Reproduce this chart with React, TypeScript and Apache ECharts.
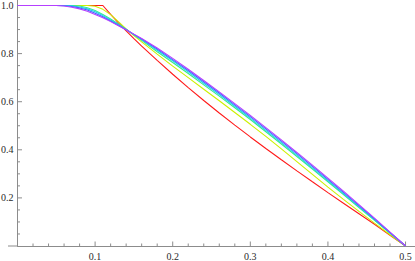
import React, { useEffect, useRef } from "react";
import * as echarts from "echarts";

// Shared x grid for all curves
const xGrid = [0, 0.05, 0.06, 0.07, 0.08, 0.09, 0.1, 0.11, 0.12, 0.13, 0.14, 0.15, 0.16, 0.18, 0.2, 0.22, 0.24, 0.26, 0.28, 0.3, 0.32, 0.34, 0.36, 0.38, 0.4, 0.42, 0.44, 0.46, 0.48, 0.5];

const redVals = [1, 1, 1, 1, 1, 1, 1, 1, 0.963, 0.928, 0.8945, 0.8625, 0.8315, 0.7719, 0.7143, 0.6587, 0.6051, 0.5531, 0.5027, 0.4535, 0.4055, 0.3585, 0.3123, 0.2669, 0.2221, 0.1779, 0.1341, 0.0907, 0.045, 0];
const yellowVals = [1, 1, 1, 1, 1, 1, 0.997, 0.984, 0.962, 0.933, 0.903, 0.875, 0.849, 0.798, 0.748, 0.7, 0.652, 0.604, 0.555, 0.506, 0.456, 0.404, 0.351, 0.298, 0.245, 0.194, 0.144, 0.095, 0.047, 0];
const greenVals = [1, 1, 1, 1, 0.998, 0.991, 0.979, 0.963, 0.944, 0.923, 0.901, 0.878, 0.855, 0.808, 0.763, 0.717, 0.67, 0.623, 0.575, 0.526, 0.475, 0.424, 0.372, 0.32, 0.267, 0.214, 0.16, 0.107, 0.053, 0];
const cyanVals = [1, 1, 1, 0.999, 0.994, 0.986, 0.974, 0.958, 0.94, 0.92, 0.9, 0.879, 0.858, 0.814, 0.77, 0.724, 0.677, 0.63, 0.581, 0.532, 0.481, 0.43, 0.378, 0.325, 0.272, 0.218, 0.164, 0.11, 0.055, 0];
const blueVals = [1, 1, 0.999, 0.996, 0.99, 0.981, 0.968, 0.953, 0.936, 0.918, 0.899, 0.88, 0.861, 0.819, 0.775, 0.73, 0.683, 0.636, 0.587, 0.538, 0.487, 0.436, 0.384, 0.331, 0.277, 0.223, 0.168, 0.113, 0.056, 0];
const purpleVals = [1, 1, 0.998, 0.993, 0.986, 0.976, 0.963, 0.949, 0.933, 0.916, 0.899, 0.881, 0.863, 0.823, 0.78, 0.735, 0.688, 0.641, 0.592, 0.543, 0.492, 0.441, 0.389, 0.336, 0.282, 0.228, 0.172, 0.116, 0.058, 0];

const xMajorTicks = [0.1, 0.2, 0.3, 0.4, 0.5];
const xMinorTicks = [0.02, 0.04, 0.06, 0.08, 0.12, 0.14, 0.16, 0.18, 0.22, 0.24, 0.26, 0.28, 0.32, 0.34, 0.36, 0.38, 0.42, 0.44, 0.46, 0.48];
const yMajorTicks = [0.2, 0.4, 0.6, 0.8, 1.0];
const yMinorTicks = [0.05, 0.1, 0.15, 0.25, 0.3, 0.35, 0.45, 0.5, 0.55, 0.65, 0.7, 0.75, 0.85, 0.9, 0.95];

// x-axis line continues a little to the left of the y axis
const X_STUB = -0.01224;
const X_MIN = 0;
const X_MAX = 0.5122;
const Y_MIN = 0;
const Y_MAX = 1.0229;

export default function App() {
  const ref = useRef<HTMLDivElement>(null);
  useEffect(() => {
    const chart = echarts.init(ref.current!, null, { renderer: "svg" });
    const axisColor = "#8c8c8c";
    const labelStyle = {
      color: "#2a2a2a",
      fontFamily: "'Times New Roman', 'Liberation Serif', serif",
      fontSize: 10,
    };
    const mk = (name: string, vals: number[], color: string, z: number) => ({
      type: "line",
      name,
      data: xGrid.map((x, i) => [x, vals[i]]),
      showSymbol: false,
      symbol: "none",
      smooth: false,
      lineStyle: { color, width: 1.1 },
      z,
      silent: true,
    });
    // tick marks drawn through the axes' scales
    const tickSeries = (vals: number[], dim: "x" | "y", len: number) => ({
      type: "custom",
      silent: true,
      z: 1,
      clip: false,
      data: vals.map((v) => [v]),
      renderItem: (params: any, api: any) => {
        const v = api.value(0);
        const p = dim === "x" ? api.coord([v, 0]) : api.coord([0, v]);
        const shape =
          dim === "x"
            ? { x1: p[0], y1: p[1], x2: p[0], y2: p[1] - len }
            : { x1: p[0], y1: p[1], x2: p[0] + len, y2: p[1] };
        return { type: "line", shape, style: { stroke: axisColor, lineWidth: 1 } };
      },
    });
    const stubSeries = {
      type: "custom",
      silent: true,
      z: 1,
      clip: false,
      data: [[X_STUB, 0]],
      renderItem: (params: any, api: any) => {
        const a = api.coord([api.value(0), 0]);
        const b = api.coord([0, 0]);
        return { type: "line", shape: { x1: a[0], y1: a[1], x2: b[0], y2: b[1] }, style: { stroke: axisColor, lineWidth: 1 } };
      },
    };
    chart.setOption({
      animation: false,
      backgroundColor: "#ffffff",
      textStyle: { fontFamily: "'Times New Roman', 'Liberation Serif', serif" },
      grid: { left: 17.5, right: 0, top: 0, bottom: 15, containLabel: false, outerBoundsMode: "none" },
      xAxis: {
        type: "value",
        min: X_MIN,
        max: X_MAX,
        position: "bottom",
        axisLine: { show: true, onZero: true, lineStyle: { color: axisColor, width: 1 } },
        axisTick: { show: false },
        axisLabel: { show: true, customValues: xMajorTicks, formatter: (v: number) => v.toFixed(1), margin: 5, ...labelStyle },
        splitLine: { show: false },
      },
      yAxis: {
        type: "value",
        min: Y_MIN,
        max: Y_MAX,
        position: "left",
        axisLine: { show: true, onZero: false, lineStyle: { color: axisColor, width: 1 } },
        axisTick: { show: false },
        axisLabel: { show: true, customValues: yMajorTicks, formatter: (v: number) => v.toFixed(1), margin: 4, ...labelStyle },
        splitLine: { show: false },
      },
      series: [
        stubSeries,
        tickSeries(xMajorTicks, "x", 4.5),
        tickSeries(xMinorTicks, "x", 2.5),
        tickSeries(yMajorTicks, "y", 4.5),
        tickSeries(yMinorTicks, "y", 2.5),
        mk("red", redVals, "#ff1a1a", 2),
        mk("yellow", yellowVals, "#ccf000", 3),
        mk("green", greenVals, "#33ee88", 4),
        mk("cyan", cyanVals, "#22ccee", 5),
        mk("blue", blueVals, "#4466ff", 6),
        mk("purple", purpleVals, "#b540ff", 7),
      ],
    });
    return () => chart.dispose();
  }, []);
  return (
    <div
      ref={ref}
      style={{ position: "fixed", left: 0, top: 0, width: 415, height: 261, background: "#fff" }}
    />
  );
}
